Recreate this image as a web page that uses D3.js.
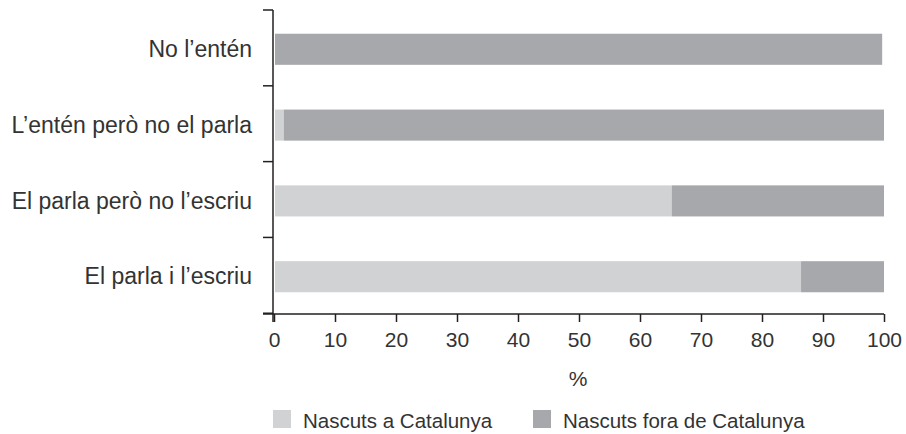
<!DOCTYPE html>
<html><head><meta charset="utf-8">
<script src="https://cdn.jsdelivr.net/npm/d3@7"></script>
<style>body{margin:0;background:#fff}svg{display:block}text{font-family:"Liberation Sans",Arial,sans-serif;fill:#333}</style>
</head><body><svg id="c" width="906" height="434"></svg>
<script>
const categories = ["No l’entén", "L’entén però no el parla", "El parla però no l’escriu", "El parla i l’escriu"];
const seriesNames = ["Nascuts a Catalunya", "Nascuts fora de Catalunya"];
const nascutsCatalunya = [0, 1.6, 65.2, 86.4];
const nascutsFora = [99.7, 98.4, 34.8, 13.6];
const xTicks = [0,10,20,30,40,50,60,70,80,90,100];
const colors = ["#d1d2d4", "#a7a8ab"];

const svg = d3.select("#c");
const x = d3.scaleLinear().domain([0,100]).range([274,884]);
const y = d3.scaleBand().domain(categories).range([10,314]).paddingInner(0.59).paddingOuter(0.3);

categories.forEach((c,i)=>{
  const vals=[nascutsCatalunya[i], nascutsFora[i]];
  let acc=0;
  vals.forEach((v,k)=>{
    const x0 = acc===0 ? x(0)+1 : x(acc);
    svg.append("rect").attr("x",x0).attr("width",Math.max(0,x(acc+v)-x0))
      .attr("y",y(c)+1).attr("height",y.bandwidth()).attr("fill",colors[k]);
    acc+=v;
  });
});

// y axis (band boundaries as ticks)
const yTickPos = [y.range()[0]].concat(categories.map(c=>y(c)-y.step()*y.paddingInner()/2+y.step()).slice(0,3)).concat([y.range()[1]]);
const yTicks = d3.range(0,5).map(i=>10+i*y.step());
svg.append("line").attr("x1",273).attr("x2",273).attr("y1",10).attr("y2",322).attr("stroke","#231f20").attr("stroke-width",1.5);
yTicks.forEach(p=>svg.append("line").attr("x1",263).attr("x2",273).attr("y1",p).attr("y2",p).attr("stroke","#231f20").attr("stroke-width",1.5));
categories.forEach((c,i)=>{
  svg.append("text").attr("x",252).attr("y",(yTicks[i]+yTicks[i+1])/2+1).attr("text-anchor","end")
    .attr("dominant-baseline","central").attr("font-size",23).text(c);
});

// x axis
const xa = svg.append("g").attr("transform","translate(0,314)")
  .call(d3.axisBottom(x).tickValues(xTicks).tickSize(8).tickPadding(10).tickFormat(d3.format("d")));
xa.select(".domain").attr("d","M263,0H884").attr("stroke","#231f20").attr("stroke-width",1.5);
xa.selectAll(".tick line").attr("stroke","#231f20").attr("stroke-width",1.5);
xa.selectAll(".tick text").attr("font-size",21).attr("font-family","Liberation Sans, Arial, sans-serif").attr("fill","#333");

svg.append("text").attr("x",x(50)-1).attr("y",378).attr("text-anchor","middle").attr("dominant-baseline","central").attr("font-size",21).text("%");

// legend
const legX = [273, 533];
seriesNames.forEach((n,i)=>{
  svg.append("rect").attr("x",legX[i]).attr("y",410).attr("width",18).attr("height",18).attr("fill",colors[i]);
  svg.append("text").attr("x",legX[i]+30).attr("y",420).attr("dominant-baseline","central").attr("font-size",20.5).text(n);
});
</script></body></html>
